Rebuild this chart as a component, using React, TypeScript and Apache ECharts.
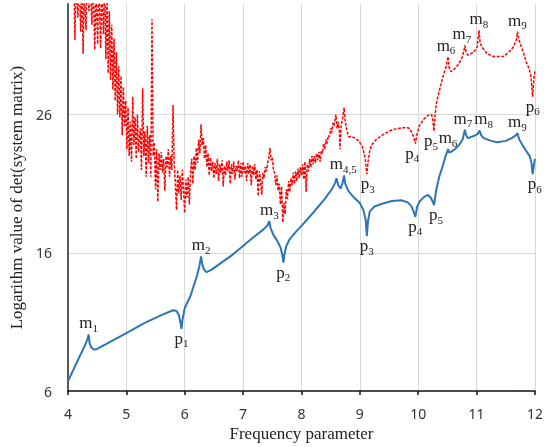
import React, { useEffect, useRef } from "react";
import * as echarts from "echarts";

const xTicks = [4, 5, 6, 7, 8, 9, 10, 11, 12];
const yTicks = [6, 16, 26];
const gridY = [16, 26];

// blue: solid curve [frequency, log det]
const blueCurve: [number, number][] = [
  [4.0, 6.7], [4.1, 7.6], [4.2, 8.5], [4.28, 9.2], [4.33, 9.7], [4.355, 10.1], [4.37, 9.5], [4.4, 9.15],
  [4.45, 9.0], [4.5, 9.05], [4.7, 9.5], [5.0, 10.2], [5.3, 10.9], [5.6, 11.5], [5.8, 11.85], [5.86, 11.8],
  [5.9, 11.5], [5.93, 10.9], [5.945, 10.5], [5.96, 11.1], [6.0, 12.0], [6.1, 12.9], [6.2, 14.2], [6.25, 15.0],
  [6.28, 15.75], [6.3, 15.2], [6.33, 14.8], [6.37, 14.6], [6.45, 14.75], [6.6, 15.2], [6.8, 15.8], [6.9, 16.15],
  [7.0, 16.5], [7.1, 16.85],
  [7.2, 17.2], [7.35, 17.7], [7.42, 18.0], [7.45, 18.3], [7.47, 17.8], [7.52, 17.3], [7.58, 16.9], [7.64, 16.4],
  [7.67, 15.9], [7.69, 15.3], [7.71, 15.9], [7.74, 16.5], [7.8, 17.0], [7.9, 17.5], [8.0, 17.95], [8.2, 18.9],
  [8.4, 19.9], [8.52, 20.6], [8.58, 21.1], [8.6, 21.4], [8.63, 20.9], [8.67, 20.65], [8.7, 21.0], [8.73, 21.6],
  [8.75, 21.0], [8.8, 20.5], [8.9, 20.0], [9.0, 19.6], [9.06, 19.1], [9.1, 18.4], [9.12, 17.2], [9.14, 18.3],
  [9.17, 19.0], [9.25, 19.35], [9.38, 19.55], [9.55, 19.75], [9.71, 19.8], [9.82, 19.65], [9.88, 19.4], [9.92, 19.0],
  [9.95, 18.6], [9.98, 19.3], [10.02, 19.7], [10.1, 20.05], [10.17, 20.2], [10.22, 19.95], [10.25, 19.7], [10.27, 19.45],
  [10.29, 20.0], [10.31, 20.6], [10.36, 21.5], [10.42, 22.3], [10.47, 23.0], [10.51, 23.5], [10.53, 23.25], [10.56, 23.3],
  [10.63, 23.5], [10.7, 23.8], [10.76, 24.2], [10.8, 24.9], [10.82, 24.5], [10.85, 24.3], [10.95, 24.45], [11.02, 24.6],
  [11.05, 24.85], [11.08, 24.5], [11.12, 24.3], [11.25, 24.1], [11.35, 24.0], [11.5, 24.1], [11.6, 24.3], [11.67, 24.5],
  [11.7, 24.65], [11.73, 24.2], [11.8, 23.7], [11.86, 23.3], [11.91, 23.0], [11.94, 22.5], [11.96, 21.7], [11.98, 22.3],
  [12.0, 22.8],
];

// red: dashed curve [frequency, log det]
const redCurve: [number, number][] = [
  [4.1, 36], [4.12, 31.4], [4.14, 36], [4.17, 33], [4.19, 36], [4.22, 32.0], [4.24, 36], [4.26, 30.4],
  [4.28, 35], [4.31, 32.1], [4.33, 36], [4.36, 33.5], [4.38, 36], [4.41, 32.5], [4.43, 36], [4.46, 30.7],
  [4.48, 35], [4.51, 31.1], [4.53, 36], [4.56, 30.8], [4.58, 35], [4.61, 31.8], [4.63, 36], [4.65, 30.0],
  [4.67, 34.5], [4.69, 29.0], [4.71, 33.5], [4.73, 28.5], [4.75, 32.5], [4.77, 27.8], [4.79, 31.5], [4.81, 27.0],
  [4.83, 30.5], [4.85, 26.0], [4.87, 29.5], [4.89, 25.8], [4.91, 28.8], [4.93, 24.5], [4.95, 28.0], [4.97, 25.2],
  [4.99, 27.0], [5.01, 23.5], [5.03, 26.5], [5.05, 23.0], [5.07, 25.5], [5.09, 22.6], [5.11, 27.3], [5.13, 23.8],
  [5.15, 25.8], [5.17, 22.8], [5.19, 26.0], [5.21, 23.3], [5.24, 25.0], [5.26, 22.0], [5.28, 27.9], [5.3, 23.0],
  [5.32, 24.8], [5.34, 21.5], [5.36, 25.2], [5.38, 22.5], [5.4, 24.5], [5.42, 21.5], [5.44, 32.9], [5.46, 23.0],
  [5.48, 24.0], [5.5, 20.6], [5.52, 23.5], [5.54, 19.7], [5.56, 23.2], [5.58, 22.0], [5.6, 23.3], [5.62, 21.8],
  [5.64, 22.8], [5.66, 20.5], [5.68, 23.0], [5.7, 22.2], [5.72, 23.5], [5.74, 21.5], [5.76, 23.0], [5.78, 22.0],
  [5.8, 26.7], [5.82, 22.5], [5.84, 21.0], [5.86, 19.1], [5.88, 22.0], [5.9, 20.3], [5.92, 21.6], [5.94, 19.8],
  [5.96, 22.0], [5.98, 20.6], [6.0, 18.9], [6.02, 21.3], [6.04, 20.0], [6.06, 21.5], [6.08, 19.5], [6.1, 21.8],
  [6.12, 22.8], [6.14, 21.0], [6.16, 23.0], [6.18, 22.0], [6.2, 23.6], [6.22, 22.5], [6.24, 24.2], [6.26, 23.2],
  [6.28, 25.3], [6.3, 23.8], [6.32, 24.3], [6.34, 22.8], [6.36, 23.8], [6.38, 22.2], [6.4, 23.2], [6.42, 21.6],
  [6.44, 22.9], [6.46, 21.9], [6.48, 22.6], [6.5, 21.4], [6.52, 22.5], [6.54, 21.7], [6.56, 22.8], [6.58, 21.2],
  [6.6, 22.4], [6.62, 21.8], [6.64, 22.7], [6.66, 20.8], [6.68, 22.3], [6.7, 21.6], [6.72, 22.6], [6.74, 21.9],
  [6.76, 22.7], [6.78, 21.0], [6.8, 22.4], [6.82, 21.7], [6.84, 22.6], [6.86, 21.3], [6.88, 22.3], [6.9, 21.9],
  [6.92, 22.7], [6.94, 21.4], [6.96, 22.5], [6.98, 21.5], [7.0, 22.6], [7.02, 21.8], [7.04, 22.3], [7.06, 21.2],
  [7.08, 22.5], [7.1, 21.7], [7.12, 22.4], [7.14, 20.9], [7.16, 22.3], [7.18, 21.6], [7.2, 22.4], [7.22, 21.3],
  [7.24, 22.0], [7.26, 20.1], [7.28, 21.9], [7.3, 21.2], [7.32, 20.2], [7.34, 21.8], [7.36, 21.4], [7.38, 22.2],
  [7.4, 21.9], [7.42, 22.5], [7.44, 22.8], [7.46, 23.6], [7.48, 22.7], [7.5, 22.9], [7.52, 22.0], [7.54, 21.8],
  [7.56, 20.9], [7.58, 21.6], [7.6, 20.5], [7.62, 21.0], [7.64, 19.5], [7.66, 20.8], [7.68, 18.2], [7.7, 19.6],
  [7.72, 18.8], [7.74, 20.6], [7.76, 19.9], [7.78, 21.2], [7.8, 20.4], [7.82, 21.4], [7.84, 20.9], [7.86, 21.8],
  [7.88, 21.0], [7.9, 21.9], [7.92, 21.2], [7.94, 22.1], [7.96, 21.4], [7.98, 22.2], [8.0, 21.6], [8.02, 22.4],
  [8.04, 21.3], [8.06, 22.6], [8.08, 20.4], [8.1, 22.4], [8.12, 21.9], [8.14, 22.8], [8.16, 22.2], [8.18, 23.0],
  [8.2, 22.4], [8.22, 23.0], [8.24, 22.5], [8.26, 23.2], [8.28, 22.7], [8.3, 23.3], [8.32, 22.6], [8.34, 23.4],
  [8.36, 23.2], [8.38, 23.9], [8.4, 23.5], [8.42, 24.2], [8.44, 23.9], [8.46, 24.5], [8.48, 24.4], [8.5, 25.0],
  [8.52, 24.7], [8.54, 25.4], [8.56, 25.2], [8.59, 26.0], [8.61, 25.0], [8.63, 25.5], [8.65, 24.8], [8.66, 23.5],
  [8.68, 25.2], [8.7, 25.6], [8.73, 26.5], [8.75, 25.5], [8.78, 24.8], [8.81, 24.4], [8.86, 24.4], [8.92, 24.3],
  [8.98, 24.1], [9.04, 23.7], [9.08, 23.1], [9.1, 22.5], [9.12, 21.7], [9.14, 22.6], [9.17, 23.4], [9.2, 23.8],
  [9.28, 24.2], [9.38, 24.5], [9.5, 24.8], [9.6, 24.95], [9.72, 25.05], [9.83, 25.05], [9.88, 24.8], [9.92, 24.4],
  [9.95, 23.9], [9.98, 24.6], [10.02, 25.2], [10.1, 25.7], [10.17, 25.95], [10.23, 26.0], [10.25, 25.6], [10.27, 24.8],
  [10.29, 26.0], [10.31, 26.8], [10.36, 27.7], [10.42, 28.7], [10.48, 29.5], [10.51, 30.2], [10.53, 29.4], [10.56, 29.1],
  [10.62, 29.3], [10.7, 29.7], [10.76, 30.2], [10.8, 31.0], [10.82, 30.5], [10.85, 30.3], [10.95, 30.5], [11.01, 30.9],
  [11.04, 32.1], [11.06, 31.2], [11.09, 30.9], [11.18, 30.4], [11.29, 30.2], [11.46, 30.2], [11.55, 30.5], [11.63, 30.9],
  [11.68, 31.4], [11.7, 32.0], [11.72, 31.5], [11.75, 31.1], [11.8, 30.5], [11.85, 29.8], [11.9, 29.3], [11.93, 28.8],
  [11.96, 27.3], [11.98, 28.6], [12.0, 29.2],
];

// annotations: [letter, subscript, x, y, position, dx]
type Ann = [string, string, number, number, string, number];
const blueLabels: Ann[] = [
  ["m", "1", 4.355, 10.1, "top", 0],
  ["p", "1", 5.945, 10.5, "bottom", 0],
  ["m", "2", 6.28, 15.75, "top", 0],
  ["m", "3", 7.45, 18.3, "top", 0],
  ["p", "2", 7.69, 15.3, "bottom", 0],
  ["m", "4,5", 8.68, 21.6, "top", 2],
  ["p", "3", 9.12, 17.2, "bottom", 0],
  ["p", "4", 9.95, 18.6, "bottom", 0],
  ["p", "5", 10.27, 19.45, "bottom", 2],
  ["m", "6", 10.51, 23.5, "top", 0],
  ["m", "7", 10.8, 24.9, "top", -2],
  ["m", "8", 11.05, 24.85, "top", 4],
  ["m", "9", 11.7, 24.65, "top", 0],
  ["p", "6", 11.96, 21.7, "bottom", 2],
];
const redLabels: Ann[] = [
  ["p", "3", 9.12, 21.7, "bottom", 1],
  ["p", "4", 9.95, 23.9, "bottom", -3],
  ["p", "5", 10.27, 24.8, "bottom", -3],
  ["m", "6", 10.51, 30.2, "top", -2],
  ["m", "7", 10.8, 31.0, "top", -3],
  ["m", "8", 11.04, 32.1, "top", 0],
  ["m", "9", 11.7, 32.0, "top", 0],
  ["p", "6", 11.96, 27.3, "bottom", 0],
];

const SERIF = "'Liberation Serif', 'Times New Roman', serif";
const SANS = "'Noto Sans', 'Open Sans', sans-serif";

function marks(list: Ann[]) {
  return list.map(([l, s, x, y, pos, dx]) => ({
    coord: [x, y],
    symbol: "circle",
    symbolSize: 0,
    label: {
      show: true,
      position: pos,
      distance: 1,
      offset: [dx, 0],
      formatter: `{a|${l}}{b|${s}}`,
      rich: {
        a: { fontFamily: SERIF, fontSize: 17, color: "#222", verticalAlign: "top", lineHeight: 19 },
        b: { fontFamily: SERIF, fontSize: 11, color: "#222", verticalAlign: "bottom", lineHeight: 19 },
      },
    },
  }));
}

export default function App() {
  const ref = useRef<HTMLDivElement>(null);
  useEffect(() => {
    if (!ref.current) return;
    const chart = echarts.init(ref.current, undefined, { renderer: "svg" });
    chart.setOption({
      animation: false,
      grid: { left: 62, right: 20, top: 4, bottom: 53, containLabel: false },
      xAxis: {
        type: "value",
        min: xTicks[0],
        max: xTicks[xTicks.length - 1],
        interval: 1,
        name: "Frequency parameter",
        nameLocation: "middle",
        nameGap: 33,
        nameTextStyle: { fontFamily: SERIF, fontSize: 17, color: "#222" },
        axisLine: { lineStyle: { color: "#111", width: 1.5 } },
        axisTick: { show: true, length: 4, lineStyle: { color: "#111", width: 1.5 } },
        axisLabel: { fontFamily: SANS, fontSize: 14, color: "#333", margin: 15 },
        splitLine: { show: true, lineStyle: { color: "#d9d9d9", width: 1 } },
      },
      yAxis: {
        type: "value",
        min: yTicks[0],
        max: 34,
        interval: 10,
        name: "Logarithm value of det(system matrix)",
        nameLocation: "middle",
        nameGap: 38,
        nameTextStyle: { fontFamily: SERIF, fontSize: 17, color: "#222" },
        axisLine: { show: true, lineStyle: { color: "#595959", width: 2 } },
        axisTick: { show: false },
        axisLabel: { fontFamily: SANS, fontSize: 14, color: "#333", margin: 16, showMaxLabel: false },
        splitLine: { show: false },
      },
      series: [
        {
          type: "line",
          data: [],
          z: 1,
          silent: true,
          markLine: {
            silent: true,
            z: 0,
            symbol: ["none", "none"],
            label: { show: false },
            lineStyle: { color: "#d9d9d9", type: "solid", width: 1 },
            data: gridY.map((v) => ({ yAxis: v })),
          },
        },
        {
          type: "line",
          data: redCurve,
          z: 3,
          showSymbol: false,
          symbol: "none",
          lineStyle: { color: "#ff0000", width: 1.5, type: [3, 1.5] },
          markPoint: { silent: true, data: marks(redLabels) },
        },
        {
          type: "line",
          data: blueCurve,
          z: 4,
          showSymbol: false,
          symbol: "none",
          lineStyle: { color: "#2e75b6", width: 2 },
          markPoint: { silent: true, data: marks(blueLabels) },
        },
      ],
    });
    return () => chart.dispose();
  }, []);
  return (
    <div
      ref={ref}
      style={{ position: "fixed", left: 0, top: 0, width: 555, height: 447 }}
    />
  );
}
